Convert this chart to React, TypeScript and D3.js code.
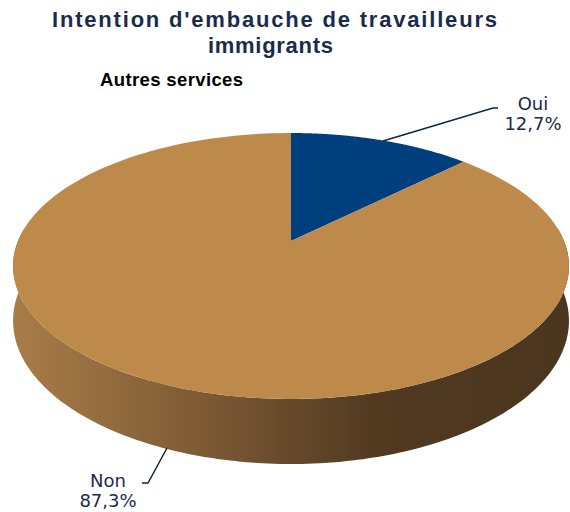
import React from "react";
import * as d3 from "d3";

const categories = ["Oui", "Non"];
const values = [12.7, 87.3];
const valueLabels = ["12,7%", "87,3%"];
const sliceColors = ["#003F7D", "#BE8A4B"];
const title = ["Intention d'embauche de travailleurs", "immigrants"];
const subtitle = "Autres services";

const W = 570;
const H = 512;
// perspective projection parameters
const cx = 291;
const cy = 241;
const A = 273;
const B = 128.3;
const K = 0.188;
const THICK = 52.8;

function proj(a: number, r: number, depth: number): [number, number] {
  const w = 1 + K * r * Math.cos(a);
  const x = cx + (A * r * Math.sin(a)) / w;
  const y = cy + (-B * r * Math.cos(a) + depth * THICK) / w;
  return [x, y];
}

function rimPoints(a0: number, a1: number, depth: number, n = 200): [number, number][] {
  const pts: [number, number][] = [];
  for (let i = 0; i <= n; i++) {
    const a = a0 + ((a1 - a0) * i) / n;
    pts.push(proj(a, 1, depth));
  }
  return pts;
}

export default function App() {
  const pie = d3
    .pie<number>()
    .sort(null)
    .value((d) => d)
    .startAngle(0)
    .endAngle(2 * Math.PI);
  const arcs = pie(values);
  const line = d3.line<[number, number]>();

  const sideTop = rimPoints(Math.PI / 2 - 0.1, (3 * Math.PI) / 2 + 0.1, 0);
  const sideBot = rimPoints(Math.PI / 2 - 0.1, (3 * Math.PI) / 2 + 0.1, 1).reverse();
  const sidePath = line([...sideTop, ...sideBot]) + "Z";

  const tops = arcs.map((d) => {
    const pts: [number, number][] = [proj(0, 0, 0), ...rimPoints(d.startAngle, d.endAngle, 0)];
    return line(pts) + "Z";
  });

  const navy = "#1B2B4B";
  const leader = "#0E2546";
  const labelFont = "'DejaVu Sans', sans-serif";

  return (
    <svg
      width={W}
      height={H}
      style={{ position: "absolute", left: 0, top: 0, background: "#fff" }}
      fontFamily="'Liberation Sans', Arial, sans-serif"
    >
      <defs>
        <linearGradient id="sideGrad" gradientUnits="userSpaceOnUse" x1={12} y1={0} x2={568} y2={0}>
          <stop offset="0%" stopColor="#A97D48" />
          <stop offset="35%" stopColor="#7C5934" />
          <stop offset="65%" stopColor="#523A21" />
          <stop offset="100%" stopColor="#4A351E" />
        </linearGradient>
      </defs>
      <text x={52} y={27} fontSize={22} fontWeight="bold" fill={navy} textLength={445} lengthAdjust="spacing">
        {title[0]}
      </text>
      <text x={208} y={53} fontSize={22} fontWeight="bold" fill={navy} textLength={125} lengthAdjust="spacing">
        {title[1]}
      </text>
      <text x={100} y={86} fontSize={18.5} fontWeight="bold" fill="#000" textLength={143} lengthAdjust="spacing">
        {subtitle}
      </text>

      <path d={sidePath} fill="url(#sideGrad)" />
      {tops.map((p, i) => (
        <path key={categories[i]} d={p} fill={sliceColors[i]} />
      ))}

      <polyline points="383,141 493,108 498,108" fill="none" stroke={leader} strokeWidth={1.5} />
      <text x={533} y={110} textAnchor="middle" fontSize={18} fontFamily={labelFont} fill={navy}>
        {categories[0]}
      </text>
      <text x={533} y={130} textAnchor="middle" fontSize={18} fontFamily={labelFont} fill={navy}>
        {valueLabels[0]}
      </text>

      <polyline points="167,448 148,483 142,483" fill="none" stroke={leader} strokeWidth={1.5} />
      <text x={108} y={487} textAnchor="middle" fontSize={18} fontFamily={labelFont} fill={navy}>
        {categories[1]}
      </text>
      <text x={108} y={507} textAnchor="middle" fontSize={18} fontFamily={labelFont} fill={navy}>
        {valueLabels[1]}
      </text>
    </svg>
  );
}
